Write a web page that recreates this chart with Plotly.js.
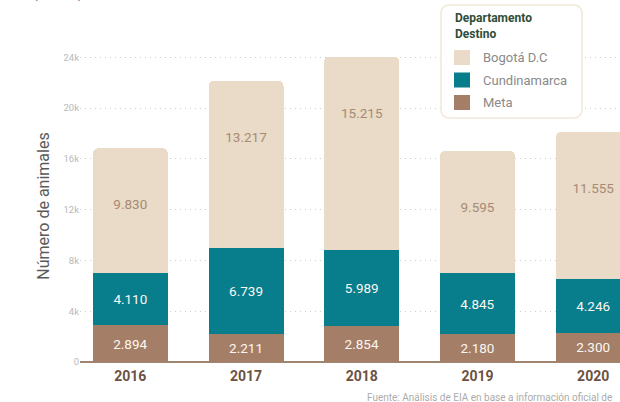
<!DOCTYPE html>
<html><head><meta charset="utf-8">
<script src="https://cdn.plot.ly/plotly-3.0.1.min.js"></script>
<style>html,body{margin:0;padding:0;background:#fff;overflow:hidden}#chart{width:620px;height:402px}</style>
</head><body><div id="chart"></div>
<script>
const years = ['2016','2017','2018','2019','2020'];
const meta = [2894,2211,2854,2180,2300];
const cundinamarca = [4110,6739,5989,4845,4246];
const bogota = [9830,13217,15215,9595,11555];
const seriesNames = ['Bogotá D.C','Cundinamarca','Meta'];
const yTickVals = [0,4000,8000,12000,16000,20000,24000];
const yTickText = ['0','4k','8k','12k','16k','20k','24k'];
const legendTitle = ['Departamento','Destino'];
const yTitle = 'Número de animales';
const sourceText = 'Fuente: Análisis de EIA en base a información oficial de';
const headerFragment = 'por departamento';

const C_BOG='#e9dbc7', C_CUN='#087d8b', C_META='#a47e67';
const seriesColors = [C_BOG, C_CUN, C_META];
const FONT = 'Roboto, "Noto Sans", sans-serif';
const W=620, H=402, M={l:80,r:0,t:50,b:40};
const pw=W-M.l-M.r, ph=H-M.t-M.b;
const px = p => (p-M.l)/pw;
const py = p => (H-M.b-p)/ph;

const totals = years.map((_,i)=>meta[i]+cundinamarca[i]+bogota[i]);
const BW = 0.648;

const inFont = {family:FONT, size:13.5, color:'#fbf7f2'};
const traces = [
  {type:'bar', name:seriesNames[2], x:years, y:meta, width:BW, marker:{color:C_META, line:{width:0}},
   texttemplate:'%{y:,}', textposition:'inside', insidetextanchor:'middle', textfont:inFont, constraintext:'none', hoverinfo:'y+name'},
  {type:'bar', name:seriesNames[1], x:years, y:cundinamarca, width:BW, marker:{color:C_CUN, line:{width:0}},
   texttemplate:'%{y:,}', textposition:'inside', insidetextanchor:'middle', textfont:inFont, constraintext:'none', hoverinfo:'y+name'},
  {type:'bar', name:seriesNames[0], x:years, y:bogota, width:BW, marker:{color:C_BOG, line:{width:0}},
   textposition:'none', hoverinfo:'y+name'},
  {type:'scatter', mode:'markers+text', x:years, y:totals, customdata:bogota,
   texttemplate:'%{customdata:,}', textposition:'bottom center',
   textfont:{family:FONT, size:13.5, color:'#a88a74'},
   marker:{size:80, color:'rgba(0,0,0,0)'}, cliponaxis:false, hoverinfo:'skip', showlegend:false}
];

function rr(x0,y0,x1,y1,r){
  const X=v=>px(v), Y=v=>py(v);
  return `M${X(x0+r)},${Y(y0)} L${X(x1-r)},${Y(y0)} Q${X(x1)},${Y(y0)} ${X(x1)},${Y(y0+r)} `+
         `L${X(x1)},${Y(y1-r)} Q${X(x1)},${Y(y1)} ${X(x1-r)},${Y(y1)} `+
         `L${X(x0+r)},${Y(y1)} Q${X(x0)},${Y(y1)} ${X(x0)},${Y(y1-r)} `+
         `L${X(x0)},${Y(y0+r)} Q${X(x0)},${Y(y0)} ${X(x0+r)},${Y(y0)} Z`;
}

const shapes = [
  {type:'path', xref:'paper', yref:'paper', path:rr(441,5,582,118,9), fillcolor:'#ffffff', line:{color:'#f1e8da', width:1.5}, layer:'above'}
];
const annotations = [];
const itemY = [57.5, 80, 102.5];
seriesNames.forEach((n,i)=>{
  shapes.push({type:'rect', xref:'paper', yref:'paper', x0:px(454), x1:px(470), y0:py(itemY[i]-7.5), y1:py(itemY[i]+7.5),
    fillcolor:seriesColors[i], line:{width:0}, layer:'above'});
  annotations.push({xref:'paper', yref:'paper', x:px(481), y:py(itemY[i]), xanchor:'left', yanchor:'middle', showarrow:false,
    text:n, font:{family:FONT, size:13, color:'#8a8a8a'}});
});
annotations.push({xref:'paper', yref:'paper', x:px(453), y:py(26), xanchor:'left', yanchor:'middle', align:'left', showarrow:false,
  text:'<b>'+legendTitle.join('<br>')+'</b>', font:{family:FONT, size:12, color:'#2f4d37'}});
annotations.push({xref:'paper', yref:'paper', x:px(365), y:py(397), xanchor:'left', yanchor:'middle', showarrow:false,
  text:sourceText, font:{family:FONT, size:10, color:'#ababab'}});
annotations.push({xref:'paper', yref:'paper', x:px(33), y:py(4), xanchor:'left', yanchor:'bottom', showarrow:false,
  text:headerFragment, font:{family:FONT, size:15, color:'#8a8a8a'}});

const layout = {
  width:W, height:H, margin:M, paper_bgcolor:'#fff', plot_bgcolor:'#fff',
  barmode:'stack', barcornerradius:5, separators:',.', showlegend:false,
  font:{family:FONT},
  xaxis:{type:'category', range:[-0.435, 4.232], showgrid:false, zeroline:false, showline:false, ticks:'',
    ticklabelstandoff:4,
    tickfont:{family:FONT, size:14, color:'#6d5243', weight:'bold'}, fixedrange:true},
  yaxis:{range:[0,24575], tickvals:yTickVals, ticktext:yTickText, ticks:'',
    showgrid:true, gridcolor:'#cdcdcd', gridwidth:1, griddash:'1px,4px',
    zeroline:true, zerolinecolor:'#a08572', zerolinewidth:2, showline:false,
    tickfont:{family:FONT, size:9.5, color:'#b8b8b8'},
    title:{text:yTitle, font:{family:FONT, size:16, color:'#5a5a5a'}, standoff:9}, fixedrange:true},
  shapes:shapes, annotations:annotations
};
Plotly.newPlot('chart', traces, layout, {displayModeBar:false, staticPlot:true});
</script></body></html>
